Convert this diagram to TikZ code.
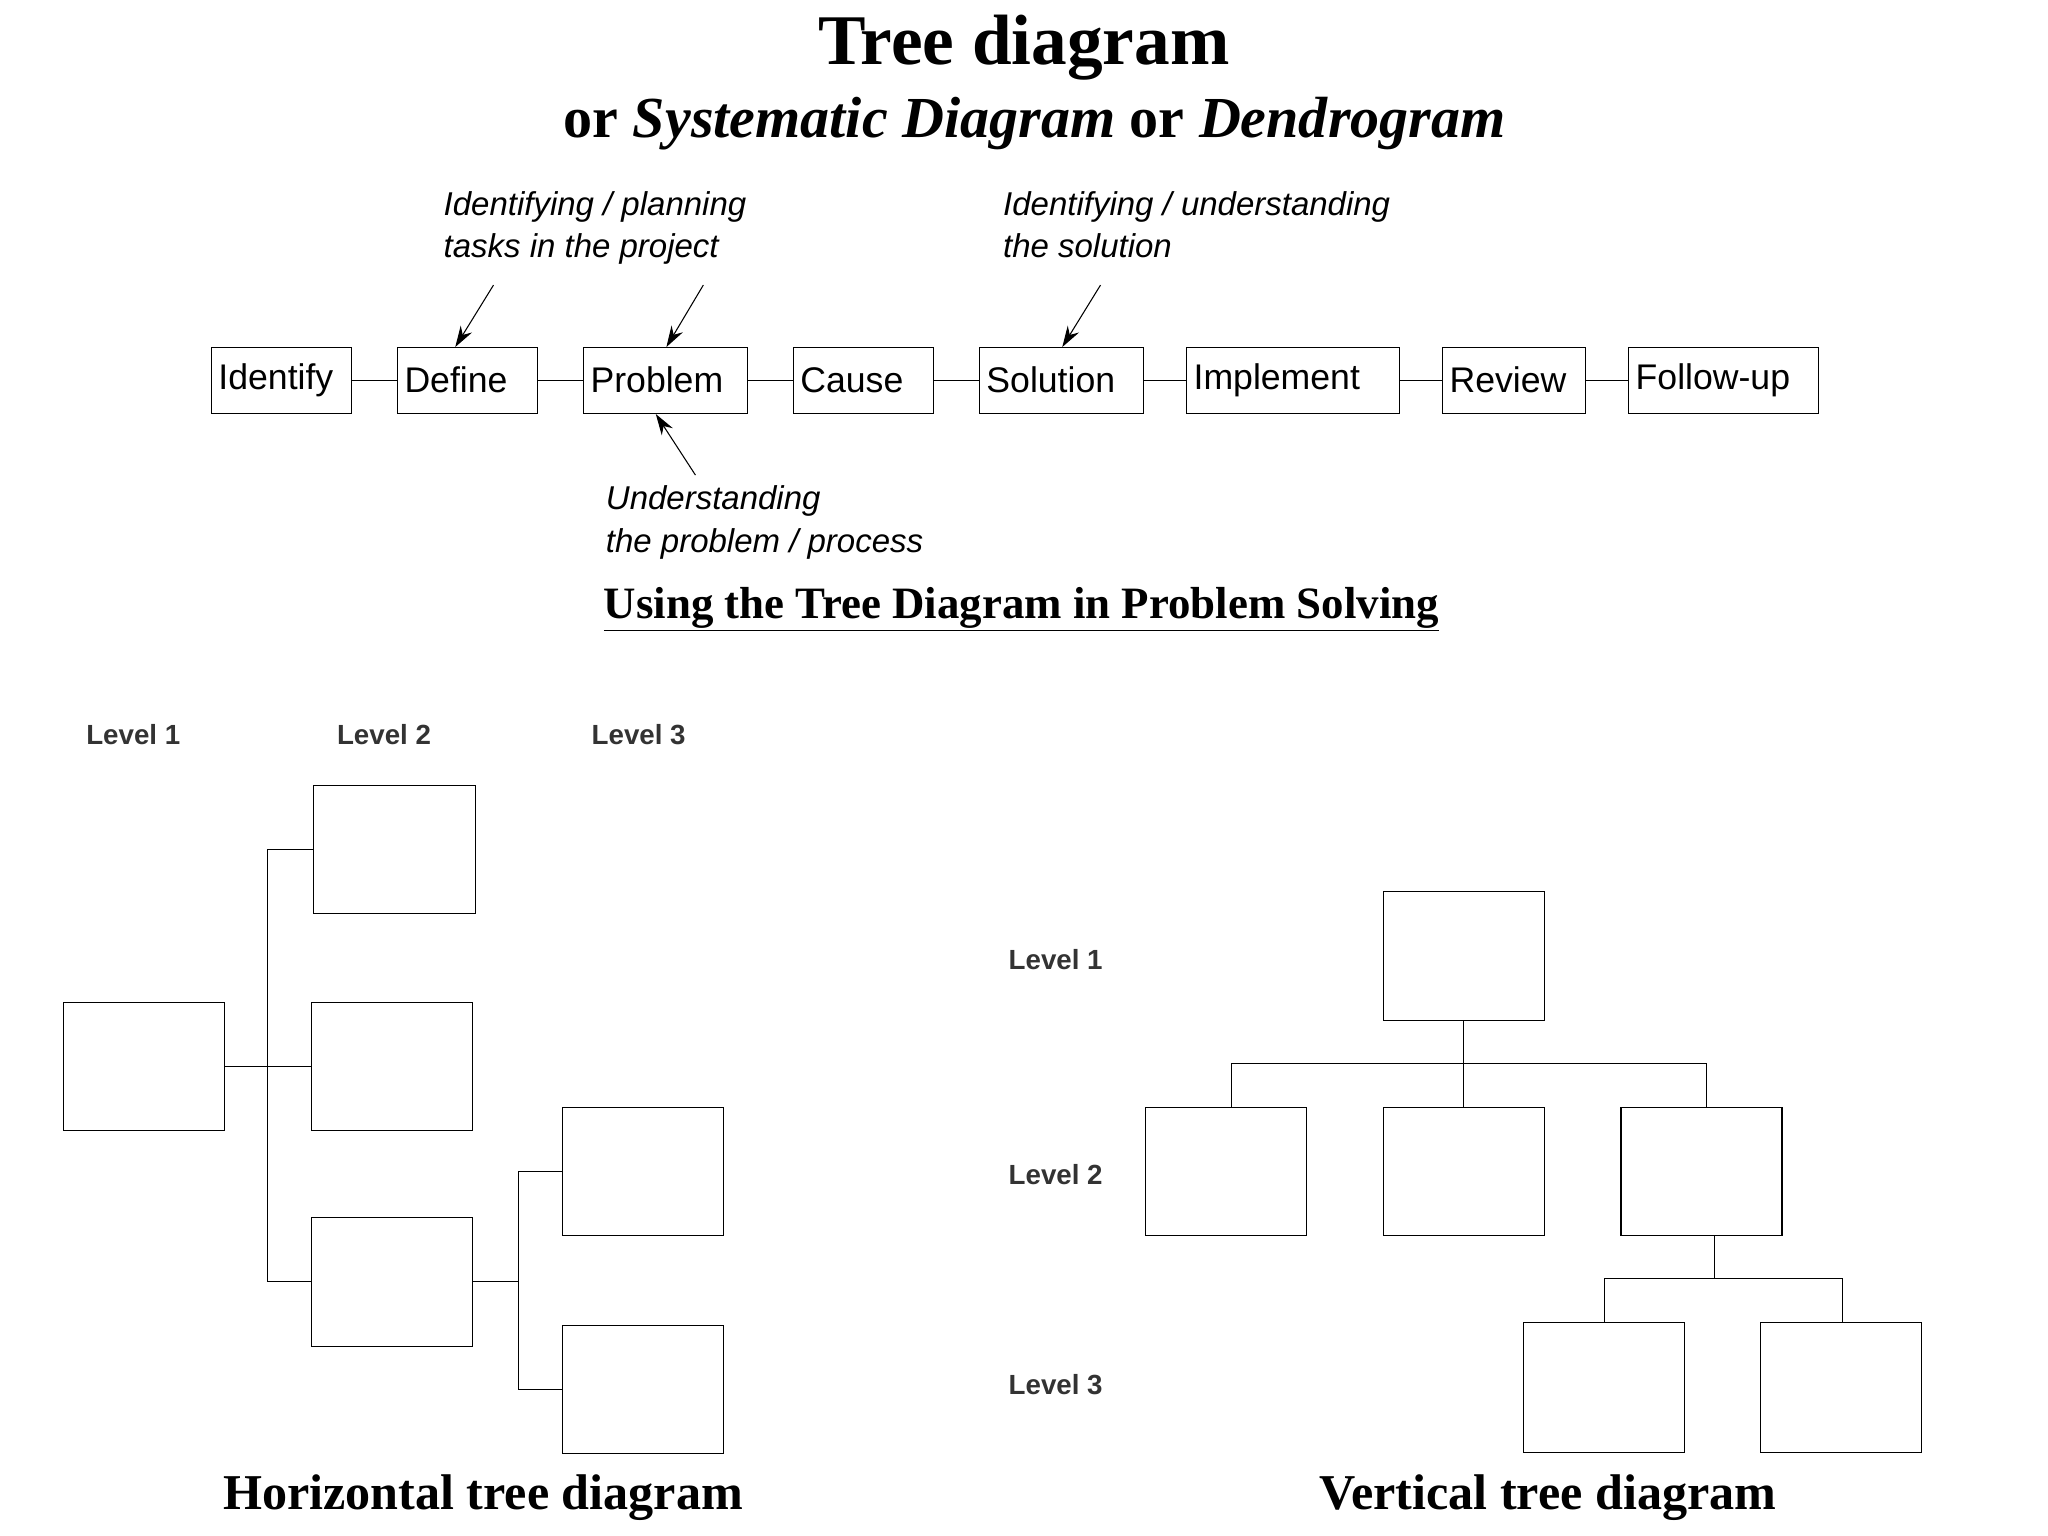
\documentclass[tikz,border=0pt]{standalone}
\usetikzlibrary{arrows.meta}
\usepackage{fontspec}
\setmainfont{Liberation Serif}
\newfontfamily\sfb{Liberation Sans}
\begin{document}
\begin{tikzpicture}[x=1pt,y=-1pt,
 box/.style={draw,thick,inner sep=0pt,anchor=north west},
 lbl/.style={font=\sfb\fontsize{27}{30}\selectfont},
 note/.style={font=\sfb\itshape\fontsize{25}{32}\selectfont,align=left,anchor=north west,inner sep=0pt},
 lev/.style={font=\sfb\bfseries\fontsize{21}{24}\selectfont,text=black!80},
 captxt/.style={font=\bfseries\fontsize{38}{44}\selectfont},
 arr/.style={thick,-{Stealth[length=16pt,width=10pt]}},
 ln/.style={thick}]
\useasboundingbox (0,0) rectangle (1552,1164);
\node (t1) at (776,36) {\bfseries\fontsize{54}{60}\selectfont Tree diagram};
\node (t2) at (784,94) {\bfseries\fontsize{44}{50}\selectfont or \textit{Systematic Diagram} or \textit{Dendrogram}};
% top chain
\foreach \n/\a/\b/\t in {id/160/266/Identify,de/301/407/Define,pr/442/566/Problem,ca/601/707/Cause,so/742/866/Solution,im/899/1060/Implement,re/1093/1201/Review,fo/1234/1378/Follow-up}{
 \node[box,minimum width={(\b-\a)*1pt},minimum height=50pt] (\n) at (\a,263) {};
 \node[lbl,anchor=west] (\n t) at (\a+2,288) {\t};
}
\foreach \p/\q in {id/de,de/pr,pr/ca,ca/so,so/im,im/re,re/fo} \draw[ln] (\p.east) -- (\q.west);
\node[note] (n1) at (336,145) {Identifying / planning\\tasks in the project};
\node[note] (n2) at (760,145) {Identifying / understanding\\the solution};
\node[note] (n3) at (459,368) {Understanding\\the problem / process};
\coordinate (a1) at (374,216); \coordinate (a2) at (533,216);
\coordinate (a3) at (834,216); \coordinate (a4) at (527,360);
\draw[arr] (a1) -- (de.north -| 345,0);
\draw[arr] (a2) -- (pr.north -| 505,0);
\draw[arr] (a3) -- (so.north -| 805,0);
\draw[arr] (a4) -- (pr.south -| 497,0);
\node (ut) at (774,462) {\bfseries\fontsize{34}{40}\selectfont\underline{Using the Tree Diagram in Problem Solving}};
% horizontal tree
\node[lev] (h1) at (101,557) {Level 1};
\node[lev] (h2) at (291,557) {Level 2};
\node[lev] (h3) at (484,557) {Level 3};
\node[box,minimum width=122pt,minimum height=97pt] (H1) at (48,759) {};
\node[box,minimum width=123pt,minimum height=97pt] (H2a) at (237,595) {};
\node[box,minimum width=122pt,minimum height=97pt] (H2b) at (236,759) {};
\node[box,minimum width=122pt,minimum height=98pt] (H2c) at (236,922) {};
\node[box,minimum width=122pt,minimum height=97pt] (H3a) at (426,839) {};
\node[box,minimum width=122pt,minimum height=97pt] (H3b) at (426,1004) {};
\draw[ln] (H1.east) -- (H2b.west);
\draw[ln] (H2a.west) -| (203,0 |- H2c.west) -- (H2c.west);
\draw[ln] (H2c.east) -- (393,0 |- H2c.east);
\draw[ln] (H3a.west) -| (393,0 |- H3b.west) -- (H3b.west);
\node[captxt] (hc) at (366,1135) {Horizontal tree diagram};
% vertical tree
\node[lev] (v1) at (800,727) {Level 1};
\node[lev] (v2) at (800,890) {Level 2};
\node[lev] (v3) at (800,1049) {Level 3};
\node[box,minimum width=122pt,minimum height=98pt] (V1) at (1048,675) {};
\node[box,minimum width=122pt,minimum height=97pt] (V2a) at (868,839) {};
\node[box,minimum width=122pt,minimum height=97pt] (V2b) at (1048,839) {};
\node[box,minimum width=122pt,minimum height=97pt] (V2c) at (1228,839) {};
\node[box,minimum width=122pt,minimum height=98pt] (V3a) at (1154,1002) {};
\node[box,minimum width=122pt,minimum height=98pt] (V3b) at (1334,1002) {};
\draw[ln] (V1.south) -- (V2b.north);
\draw[ln] (V2a.north -| 933,0) -- (933,806) -- (1293,806) -- (V2c.north -| 1293,0);
\draw[ln] (V2c.south -| 1299,0) -- (1299,969);
\draw[ln] (V3a.north -| 1216,0) -- (1216,969) -- (1396,969) -- (V3b.north -| 1396,0);
\node[captxt] (vc) at (1173,1135) {Vertical tree diagram};
\end{tikzpicture}
\end{document}
